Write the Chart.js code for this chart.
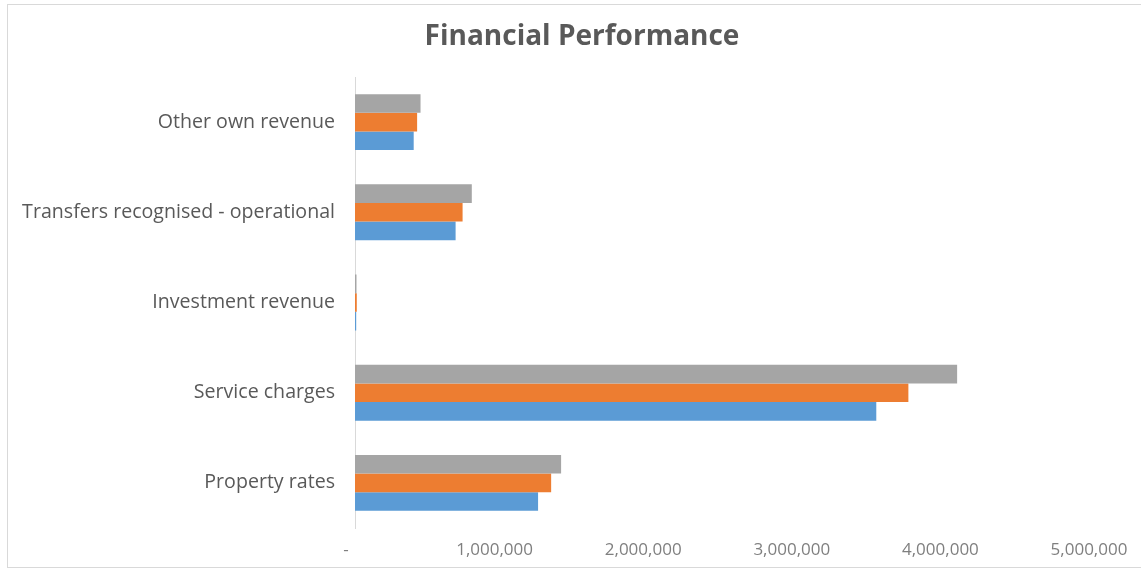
<!DOCTYPE html>
<html lang="en">
<head>
    <meta charset="UTF-8">
    <title>Financial Performance</title>
    <style>
        html, body { margin: 0; padding: 0; background: #fff; overflow: hidden; }
        #frame { position: absolute; left: 7px; top: 4px; width: 1200px; height: 562px; border: 1px solid #d9d9d9; }
        #wrap { position: absolute; left: 0; top: 0; width: 1141px; height: 571px; }
    </style>
</head>
<body>
    <div id="frame"></div>
    <div id="wrap"><canvas id="myChart" width="1141" height="571"></canvas></div>
    <script src="https://cdn.jsdelivr.net/npm/chart.js"></script>
    <script>
        // categories, top to bottom as shown
        const categories = ['Other own revenue', 'Transfers recognised - operational', 'Investment revenue', 'Service charges', 'Property rates'];
        // three unnamed series (no legend in the original)
        const series1 = [395000, 677000, 8000, 3508000, 1232000];   // blue
        const series2 = [418000, 724000, 12000, 3724000, 1320000];  // orange
        const series3 = [441000, 786000, 10000, 4052000, 1387000];  // gray
        const xTicks = [0, 1000000, 2000000, 3000000, 4000000, 5000000];
        const chartTitle = 'Financial Performance';

        const labelFont = "'Open Sans', 'Noto Sans', sans-serif";

        // the original title is not centred on the canvas, so draw it ourselves
        const offsetTitle = {
            id: 'offsetTitle',
            afterDraw(chart) {
                const c = chart.ctx;
                c.save();
                c.font = "bold 28px " + labelFont;
                c.fillStyle = '#595959';
                c.textAlign = 'center';
                c.textBaseline = 'middle';
                c.fillText(chartTitle, 582, 37);
                c.restore();
            }
        };

        const ctx = document.getElementById('myChart').getContext('2d');
        new Chart(ctx, {
            type: 'bar',
            data: {
                labels: categories,
                datasets: [
                    { label: 'Series 3', data: series3, backgroundColor: '#a5a5a5' },
                    { label: 'Series 2', data: series2, backgroundColor: '#ed7d31' },
                    { label: 'Series 1', data: series1, backgroundColor: '#5b9bd5' }
                ]
            },
            plugins: [offsetTitle],
            options: {
                indexAxis: 'y',
                responsive: false,
                animation: false,
                layout: { padding: { top: 77, right: 43, bottom: 0, left: 0 } },
                datasets: {
                    bar: { categoryPercentage: 0.62, barPercentage: 1.0 }
                },
                plugins: {
                    legend: { display: false },
                    tooltip: { enabled: false },
                    title: { display: false }
                },
                scales: {
                    x: {
                        min: 0,
                        max: 5000000,
                        afterBuildTicks: function(scale) {
                            scale.ticks = xTicks.map(v => ({ value: v }));
                        },
                        afterFit: function(scale) {
                            scale.height = 43;
                            scale.paddingLeft = 0;
                            scale.paddingRight = 0;
                        },
                        grid: { display: false, drawTicks: false },
                        border: { display: false },
                        ticks: {
                            color: '#7f7f7f',
                            padding: 12,
                            labelOffset: -9,
                            maxRotation: 0,
                            font: { family: labelFont, size: 17 },
                            callback: function(v) { return v === 0 ? '-' : v.toLocaleString('en-US'); }
                        }
                    },
                    y: {
                        afterFit: function(scale) { scale.width = 355; },
                        grid: { display: false, drawTicks: false },
                        border: { display: true, color: '#d9d9d9', width: 1 },
                        ticks: {
                            color: '#595959',
                            padding: 20,
                            font: { family: labelFont, size: 19.6 }
                        }
                    }
                }
            }
        });
    </script>
</body>
</html>
